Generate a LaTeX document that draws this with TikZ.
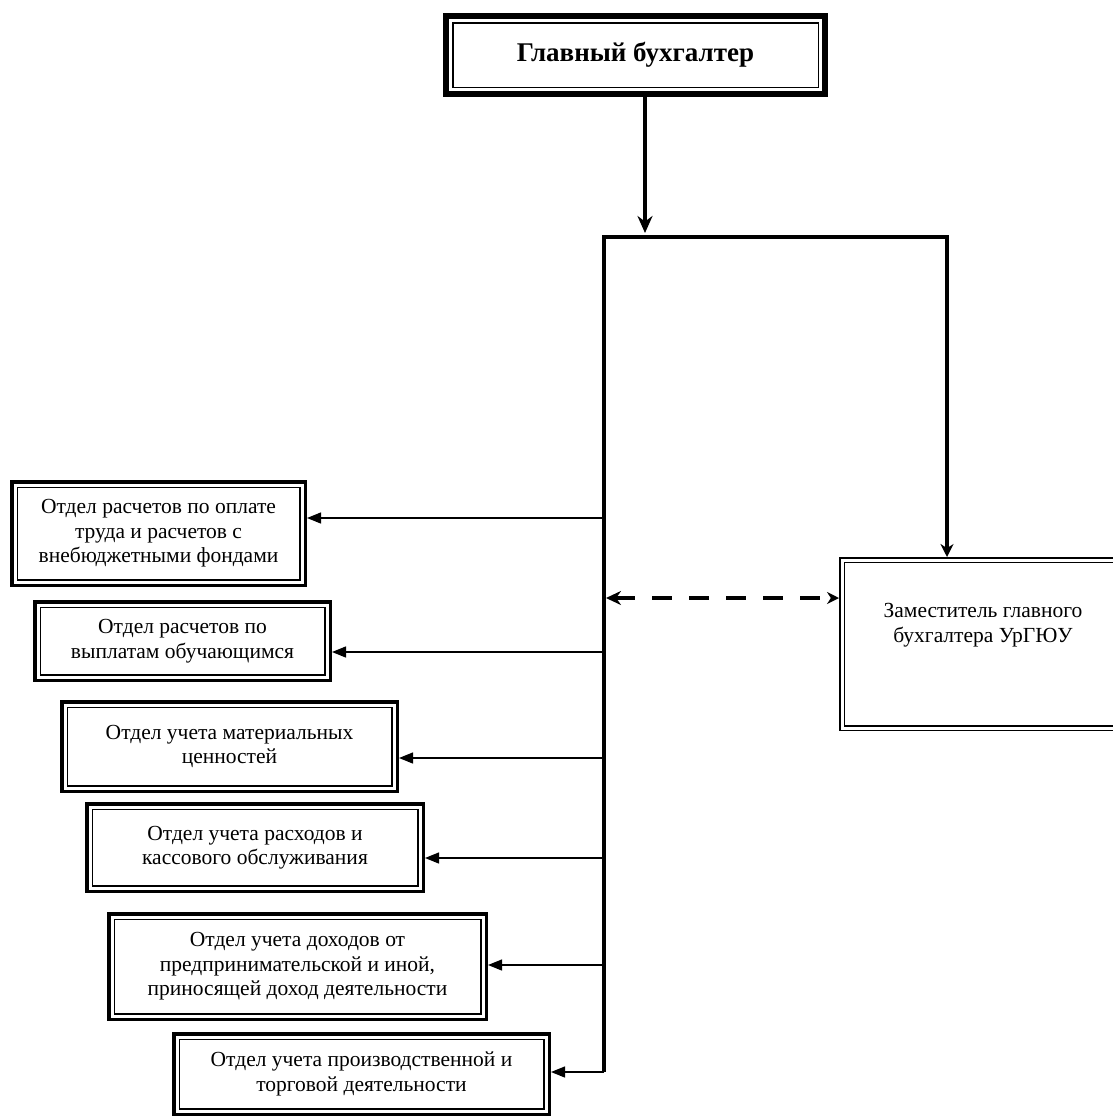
\documentclass[tikz,border=0pt]{standalone}
\usepackage{fontspec}
\setmainfont{Liberation Serif}
\usetikzlibrary{arrows.meta}
\tikzset{
  dept/.style={draw, fill=white, line width=1.2pt, double, double distance=3pt,
    preaction={draw, line width=10pt}, outer sep=5pt, inner sep=0pt, align=center,
    font=\fontsize{21.5}{24.5}\selectfont},
  chiefbox/.style={dept, line width=1.5pt, preaction={draw, line width=15pt}, outer sep=7.5pt,
    font=\fontsize{27}{30}\selectfont\bfseries},
  deputybox/.style={draw, line width=1.5pt, double, double distance=3pt, outer sep=3pt},
  deptext/.style={align=center, font=\fontsize{21.5}{24.5}\selectfont},
  bus/.style={line width=4pt},
  feed/.style={line width=1.3pt, -{Triangle[length=14pt,width=11pt]}},
  link/.style={line width=4pt, dash pattern=on 20pt off 17pt,
    {Stealth[length=15pt,width=14pt]}-{Stealth[length=12pt,width=12pt]}},
}
\begin{document}
\begin{tikzpicture}[x=1pt,y=-1pt]
  \useasboundingbox (0,0) rectangle (1112,1120);
  \node[chiefbox, minimum width=370pt, minimum height=69pt] (chief) at (635.5,55) {Главный бухгалтер};
  \node[dept, minimum width=287pt, minimum height=97pt] (pay) at (158.5,533.5) {Отдел расчетов по оплате\\труда и расчетов с\\внебюджетными фондами};
  \node[dept, minimum width=289pt, minimum height=72pt] (stud) at (182.5,641) {Отдел расчетов по\\выплатам обучающимся};
  \node[dept, minimum width=329pt, minimum height=83pt] (mat) at (229.5,746.5) {Отдел учета материальных\\ценностей};
  \node[dept, minimum width=330pt, minimum height=81pt] (cash) at (255,847.5) {Отдел учета расходов и\\кассового обслуживания};
  \node[dept, minimum width=371pt, minimum height=99pt] (inc) at (297.5,966.5) {Отдел учета доходов от\\предпринимательской и иной,\\приносящей доход деятельности};
  \node[dept, minimum width=369pt, minimum height=74pt] (prod) at (361.5,1074) {Отдел учета производственной и\\торговой деятельности};
  \node[deputybox, minimum width=282pt, minimum height=168pt] (dep) at (983,644) {};
  \node[deptext] (deptxt) at (983,625) {Заместитель главного\\бухгалтера УрГЮУ};
  \coordinate (top) at (604,237);
  \coordinate (corner) at (947,237);
  \coordinate (bot) at (604,1072);
  \coordinate (dash) at (606,598);
  \draw[bus, -{Stealth[length=13pt,width=13pt]}] (bot) -- (top) -- (corner) -- (corner |- dep.north);
  \draw[line width=3.5pt, -{Stealth[length=17pt,width=15pt]}] ([xshift=9.5pt]chief.south) -- ([xshift=9.5pt,yshift=4pt]chief.south |- top);
  \draw[link] (dash) -- (dash -| dep.west);
  \coordinate (b1) at (604,518);
  \coordinate (b2) at (604,652);
  \coordinate (b3) at (604,758);
  \coordinate (b4) at (604,858);
  \coordinate (b5) at (604,965);
  \coordinate (b6) at (604,1072);
  \draw[feed] (b1) -- (b1 -| pay.east);
  \draw[feed] (b2) -- (b2 -| stud.east);
  \draw[feed] (b3) -- (b3 -| mat.east);
  \draw[feed] (b4) -- (b4 -| cash.east);
  \draw[feed] (b5) -- (b5 -| inc.east);
  \draw[feed] (b6) -- (b6 -| prod.east);
\end{tikzpicture}
\end{document}
